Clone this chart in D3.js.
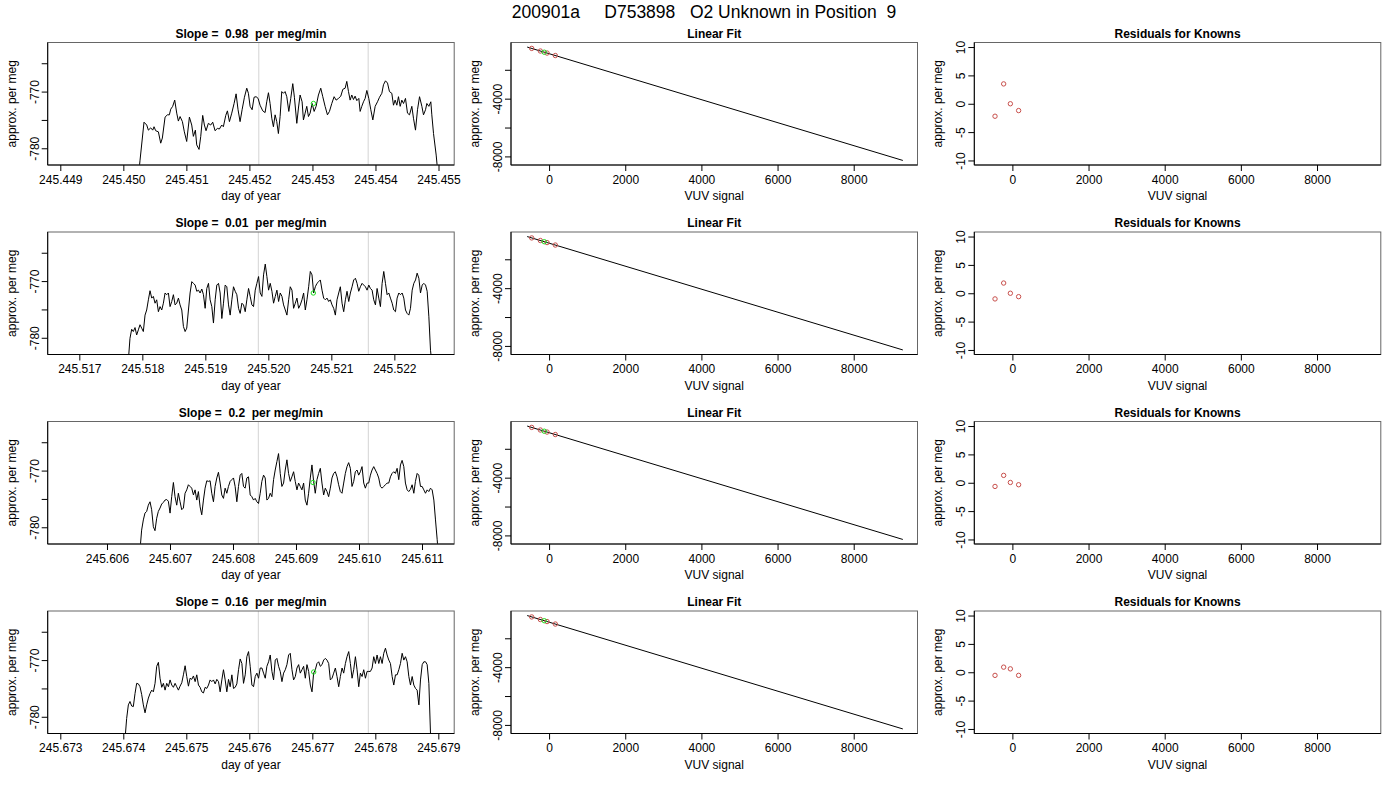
<!DOCTYPE html>
<html>
<head>
<meta charset="utf-8">
<script src="https://cdn.jsdelivr.net/npm/d3@7"></script>
<style>
  body { margin: 0; background: #fff; }
  svg { display: block; }
</style>
</head>
<body>
<svg id="chart" width="1400" height="800"></svg>
<script>
// ---- data ----
const mainTitle = "200901a     D753898   O2 Unknown in Position  9";
const slopes = ["0.98", "0.01", "0.2", "0.16"];

const dayTicks = [
  [245.449, 245.450, 245.451, 245.452, 245.453, 245.454, 245.455],
  [245.517, 245.518, 245.519, 245.520, 245.521, 245.522],
  [245.606, 245.607, 245.608, 245.609, 245.610, 245.611],
  [245.673, 245.674, 245.675, 245.676, 245.677, 245.678, 245.679]
];
const dayLimits = [
  [245.448800, 245.455249],
  [245.516498, 245.522950],
  [245.605059, 245.611511],
  [245.672800, 245.679252]
];
const valueLimits = [-782.95, -761.34];
const valueTicks = [-780, -775, -770, -765];
const valueTickLabels = [-780, -770];

// grey reference lines and the unknown's mean (green) in each window
const refTimes = [
  [245.452149, 245.453884],
  [245.519841, 245.521587],
  [245.608402, 245.610148],
  [245.676143, 245.677889]
];
const unknownTimes = [245.453016, 245.520714, 245.609270, 245.677022];
const unknownValues = [-772.1, -772.1, -772.1, -772.1];

const times1 = [
  245.450212, 245.450265, 245.450328, 245.450371, 245.450397, 245.450434, 245.450466, 245.450487, 245.450513, 245.450556,
  245.450593, 245.450619, 245.450662, 245.450699, 245.450730, 245.450752, 245.450783, 245.450815, 245.450847, 245.450873,
  245.450900, 245.450937, 245.450968, 245.451005, 245.451048, 245.451085, 245.451111, 245.451143, 245.451164, 245.451201,
  245.451228, 245.451259, 245.451286, 245.451312, 245.451349, 245.451386, 245.451418, 245.451455, 245.451492, 245.451524,
  245.451561, 245.451587, 245.451625, 245.451651, 245.451683, 245.451720, 245.451757, 245.451789, 245.451820, 245.451852,
  245.451884, 245.451921, 245.451958, 245.451984, 245.452011, 245.452043, 245.452074, 245.452106, 245.452138, 245.452169,
  245.452212, 245.452249, 245.452275, 245.452302, 245.452328, 245.452355, 245.452381, 245.452408, 245.452434, 245.452460,
  245.452487, 245.452513, 245.452540, 245.452566, 245.452593, 245.452625, 245.452656, 245.452688, 245.452714, 245.452752,
  245.452778, 245.452804, 245.452836, 245.452857, 245.452884, 245.452910, 245.452937, 245.452963, 245.452995, 245.453027,
  245.453058, 245.453095, 245.453132, 245.453164, 245.453201, 245.453238, 245.453270, 245.453307, 245.453344, 245.453376,
  245.453413, 245.453450, 245.453482, 245.453519, 245.453545, 245.453572, 245.453598, 245.453624, 245.453651, 245.453677,
  245.453704, 245.453736, 245.453757, 245.453783, 245.453810, 245.453836, 245.453863, 245.453894, 245.453926, 245.453958,
  245.453995, 245.454032, 245.454064, 245.454101, 245.454127, 245.454159, 245.454191, 245.454222, 245.454259, 245.454286,
  245.454312, 245.454339, 245.454365, 245.454392, 245.454418, 245.454445, 245.454476, 245.454508, 245.454540, 245.454577,
  245.454603, 245.454635, 245.454667, 245.454699, 245.454736, 245.454762, 245.454794, 245.454815, 245.454847, 245.454878,
  245.454894, 245.454921, 245.454963, 245.455000
];
const values1 = [
  -788.0, -782.1, -775.4, -775.9, -776.8, -776.4, -776.8, -776.2, -776.9, -777.1,
  -779.1, -778.2, -774.5, -774.1, -774.1, -773.1, -772.6, -771.5, -773.8, -775.2,
  -774.4, -775.3, -777.1, -778.8, -774.5, -775.9, -777.9, -776.8, -779.4, -780.2,
  -777.9, -774.2, -775.9, -776.9, -775.6, -775.9, -775.4, -776.9, -776.5, -776.6,
  -775.9, -776.2, -774.2, -773.4, -775.3, -773.8, -772.1, -770.4, -773.2, -775.3,
  -773.2, -771.0, -769.4, -770.3, -772.6, -773.2, -771.0, -770.9, -771.2, -772.4,
  -773.4, -773.7, -771.8, -770.2, -772.1, -774.7, -776.2, -774.1, -775.3, -777.4,
  -774.4, -770.0, -770.3, -770.0, -770.9, -773.5, -771.2, -768.6, -771.0, -775.6,
  -772.9, -770.6, -771.8, -775.0, -773.8, -772.6, -774.4, -773.8, -772.1, -773.5,
  -772.6, -770.6, -769.4, -770.9, -772.6, -774.1, -773.5, -772.1, -770.9, -771.5,
  -771.2, -770.8, -769.6, -769.4, -768.2, -770.0, -771.5, -770.6, -771.4, -770.8,
  -771.6, -771.2, -773.5, -772.6, -771.8, -771.2, -769.8, -771.2, -773.2, -775.0,
  -772.6, -771.8, -771.0, -770.3, -768.8, -768.1, -768.5, -770.0, -770.3, -772.4,
  -771.5, -772.4, -770.9, -772.6, -771.5, -772.1, -771.2, -773.8, -774.1, -772.6,
  -774.7, -776.8, -773.2, -770.9, -772.6, -774.1, -773.2, -772.1, -772.6, -771.8,
  -774.1, -777.4, -781.2, -785.6
];

const times2 = [
  245.517778, 245.517804, 245.517831, 245.517857, 245.517884, 245.517910, 245.517937, 245.517963, 245.517990, 245.518016,
  245.518043, 245.518069, 245.518096, 245.518122, 245.518149, 245.518175, 245.518202, 245.518228, 245.518255, 245.518281,
  245.518308, 245.518334, 245.518361, 245.518387, 245.518414, 245.518440, 245.518467, 245.518493, 245.518520, 245.518546,
  245.518573, 245.518599, 245.518626, 245.518652, 245.518679, 245.518705, 245.518732, 245.518758, 245.518785, 245.518811,
  245.518838, 245.518864, 245.518891, 245.518917, 245.518944, 245.518970, 245.518997, 245.519023, 245.519050, 245.519076,
  245.519103, 245.519129, 245.519156, 245.519182, 245.519209, 245.519235, 245.519262, 245.519288, 245.519315, 245.519341,
  245.519368, 245.519394, 245.519421, 245.519447, 245.519474, 245.519500, 245.519527, 245.519553, 245.519580, 245.519606,
  245.519633, 245.519659, 245.519686, 245.519712, 245.519739, 245.519765, 245.519792, 245.519818, 245.519845, 245.519871,
  245.519898, 245.519924, 245.519951, 245.519977, 245.520004, 245.520030, 245.520057, 245.520083, 245.520110, 245.520136,
  245.520163, 245.520189, 245.520216, 245.520242, 245.520269, 245.520295, 245.520322, 245.520348, 245.520375, 245.520401,
  245.520428, 245.520454, 245.520481, 245.520507, 245.520534, 245.520560, 245.520587, 245.520613, 245.520640, 245.520666,
  245.520693, 245.520719, 245.520746, 245.520772, 245.520799, 245.520825, 245.520852, 245.520878, 245.520905, 245.520931,
  245.520958, 245.520984, 245.521011, 245.521037, 245.521064, 245.521090, 245.521117, 245.521143, 245.521170, 245.521196,
  245.521223, 245.521249, 245.521276, 245.521302, 245.521329, 245.521355, 245.521382, 245.521408, 245.521435, 245.521461,
  245.521488, 245.521514, 245.521541, 245.521567, 245.521594, 245.521620, 245.521647, 245.521673, 245.521700, 245.521726,
  245.521753, 245.521779, 245.521806, 245.521832, 245.521859, 245.521885, 245.521912, 245.521938, 245.521965, 245.521991,
  245.522018, 245.522044, 245.522071, 245.522097, 245.522124, 245.522150, 245.522177, 245.522203, 245.522230, 245.522256,
  245.522283, 245.522309, 245.522336, 245.522362, 245.522389, 245.522415, 245.522442, 245.522468, 245.522495, 245.522521,
  245.522548, 245.522574, 245.522601
];
const values2 = [
  -784.0, -780.1, -778.5, -778.9, -778.2, -779.5, -778.6, -777.7, -778.3, -778.9,
  -776.0, -775.1, -773.3, -771.7, -773.0, -772.7, -773.9, -773.3, -775.4, -774.5,
  -775.1, -773.9, -772.1, -772.4, -772.1, -774.5, -773.6, -772.4, -774.2, -773.9,
  -773.0, -774.2, -775.1, -778.0, -778.9, -778.3, -775.1, -772.1, -770.1, -770.4,
  -770.7, -771.8, -771.6, -772.1, -771.4, -772.4, -774.8, -771.3, -770.4, -773.3,
  -774.5, -777.4, -773.3, -770.7, -770.4, -772.1, -776.6, -773.9, -770.7, -771.0,
  -774.2, -776.0, -773.3, -771.0, -771.8, -772.4, -774.8, -775.7, -773.9, -774.2,
  -775.4, -773.3, -771.3, -772.7, -774.2, -774.5, -771.6, -770.4, -769.2, -772.1,
  -772.7, -768.9, -767.0, -769.2, -771.6, -770.4, -771.8, -773.9, -772.7, -771.6,
  -773.6, -772.1, -772.7, -774.2, -775.1, -776.0, -773.3, -771.0, -771.6, -774.8,
  -773.9, -773.0, -774.8, -774.2, -773.3, -772.1, -775.1, -773.3, -771.0, -768.3,
  -768.9, -772.1, -771.0, -770.4, -770.1, -769.8, -771.6, -773.0, -773.3, -773.0,
  -773.6, -773.3, -774.2, -774.8, -776.0, -773.3, -772.1, -771.0, -773.9, -775.4,
  -773.3, -771.8, -773.6, -772.1, -771.0, -769.8, -769.5, -770.4, -771.8, -771.0,
  -770.4, -770.7, -771.0, -771.6, -770.7, -771.3, -771.6, -773.3, -774.2, -771.3,
  -773.0, -774.5, -770.4, -768.3, -770.4, -772.4, -772.1, -773.0, -773.9, -775.1,
  -775.4, -773.0, -772.1, -772.4, -772.1, -773.0, -775.1, -775.7, -776.0, -774.8,
  -771.6, -770.4, -769.8, -768.6, -769.5, -772.1, -770.7, -770.4, -770.7, -771.8,
  -776.3, -782.2, -785.0
];

const times3 = [
  245.606524, 245.606550, 245.606577, 245.606603, 245.606630, 245.606656, 245.606683, 245.606709, 245.606736, 245.606762,
  245.606789, 245.606815, 245.606842, 245.606868, 245.606895, 245.606921, 245.606948, 245.606974, 245.607001, 245.607027,
  245.607054, 245.607080, 245.607107, 245.607133, 245.607160, 245.607186, 245.607213, 245.607239, 245.607266, 245.607292,
  245.607319, 245.607345, 245.607372, 245.607398, 245.607425, 245.607451, 245.607478, 245.607504, 245.607531, 245.607557,
  245.607584, 245.607610, 245.607637, 245.607663, 245.607690, 245.607716, 245.607743, 245.607769, 245.607796, 245.607822,
  245.607849, 245.607875, 245.607902, 245.607928, 245.607955, 245.607981, 245.608008, 245.608034, 245.608061, 245.608087,
  245.608114, 245.608140, 245.608167, 245.608193, 245.608220, 245.608246, 245.608273, 245.608299, 245.608326, 245.608352,
  245.608379, 245.608405, 245.608432, 245.608458, 245.608485, 245.608511, 245.608538, 245.608564, 245.608591, 245.608617,
  245.608644, 245.608670, 245.608697, 245.608723, 245.608750, 245.608776, 245.608803, 245.608829, 245.608856, 245.608882,
  245.608909, 245.608935, 245.608962, 245.608988, 245.609015, 245.609041, 245.609068, 245.609094, 245.609121, 245.609147,
  245.609174, 245.609200, 245.609227, 245.609253, 245.609280, 245.609306, 245.609333, 245.609359, 245.609386, 245.609412,
  245.609439, 245.609465, 245.609492, 245.609518, 245.609545, 245.609571, 245.609598, 245.609624, 245.609651, 245.609677,
  245.609704, 245.609730, 245.609757, 245.609783, 245.609810, 245.609836, 245.609863, 245.609889, 245.609916, 245.609942,
  245.609969, 245.609995, 245.610022, 245.610048, 245.610075, 245.610101, 245.610128, 245.610154, 245.610181, 245.610207,
  245.610234, 245.610260, 245.610287, 245.610313, 245.610340, 245.610366, 245.610393, 245.610419, 245.610446, 245.610472,
  245.610499, 245.610525, 245.610552, 245.610578, 245.610605, 245.610631, 245.610658, 245.610684, 245.610711, 245.610737,
  245.610764, 245.610790, 245.610817, 245.610843, 245.610870, 245.610896, 245.610923, 245.610949, 245.610976, 245.611002,
  245.611029, 245.611055, 245.611082, 245.611108, 245.611135, 245.611161, 245.611188, 245.611214, 245.611241, 245.611267
];
const values3 = [
  -784.0, -780.5, -778.7, -777.5, -777.2, -776.1, -775.5, -776.9, -779.9, -780.6,
  -778.4, -777.2, -776.6, -775.9, -775.6, -775.2, -775.1, -775.4, -777.5, -774.6,
  -772.1, -774.6, -776.1, -774.0, -775.5, -776.9, -776.6, -774.0, -773.4, -772.5,
  -772.8, -773.1, -774.3, -773.4, -775.2, -773.7, -776.4, -777.8, -775.2, -773.1,
  -771.8, -771.9, -771.8, -774.0, -775.5, -772.8, -771.3, -770.3, -772.2, -774.3,
  -774.9, -773.1, -774.0, -772.8, -771.9, -771.6, -771.3, -772.8, -775.5, -772.8,
  -770.8, -770.5, -772.8, -773.1, -771.3, -771.1, -774.3, -774.6, -775.2, -774.9,
  -775.5, -775.8, -774.0, -771.9, -770.8, -771.3, -775.2, -774.9, -774.0, -774.6,
  -771.6, -769.9, -768.4, -767.0, -770.5, -772.8, -772.2, -769.9, -768.1, -770.5,
  -771.9, -771.1, -770.2, -771.9, -773.4, -772.2, -772.8, -773.4, -772.2, -775.2,
  -776.1, -774.0, -771.3, -769.0, -771.9, -774.0, -771.6, -770.5, -769.6, -772.2,
  -774.3, -773.1, -773.7, -774.6, -773.1, -771.3, -770.5, -770.2, -771.1, -772.5,
  -773.7, -774.0, -772.2, -770.5, -769.3, -768.6, -769.6, -772.8, -771.9, -770.2,
  -769.9, -770.8, -770.2, -769.3, -772.2, -773.1, -772.2, -772.2, -770.8, -769.9,
  -769.3, -769.9, -770.5, -771.3, -772.8, -773.1, -772.8, -772.5, -772.2, -772.2,
  -771.1, -770.5, -770.2, -770.5, -769.6, -771.6, -769.0, -768.2, -769.3, -772.2,
  -773.4, -773.7, -773.3, -772.5, -774.0, -771.9, -770.5, -770.8, -772.8, -772.8,
  -773.4, -774.0, -773.4, -773.7, -773.1, -773.4, -775.2, -778.7, -782.2, -786.0
];

const times4 = [
  245.674027, 245.674053, 245.674080, 245.674106, 245.674133, 245.674159, 245.674186, 245.674212, 245.674239, 245.674265,
  245.674292, 245.674318, 245.674345, 245.674371, 245.674398, 245.674424, 245.674451, 245.674477, 245.674504, 245.674530,
  245.674557, 245.674583, 245.674610, 245.674636, 245.674663, 245.674689, 245.674716, 245.674742, 245.674769, 245.674795,
  245.674822, 245.674848, 245.674875, 245.674901, 245.674928, 245.674954, 245.674981, 245.675007, 245.675034, 245.675060,
  245.675087, 245.675113, 245.675140, 245.675166, 245.675193, 245.675219, 245.675246, 245.675272, 245.675299, 245.675325,
  245.675352, 245.675378, 245.675405, 245.675431, 245.675458, 245.675484, 245.675511, 245.675537, 245.675564, 245.675590,
  245.675617, 245.675643, 245.675670, 245.675696, 245.675723, 245.675749, 245.675776, 245.675802, 245.675829, 245.675855,
  245.675882, 245.675908, 245.675935, 245.675961, 245.675988, 245.676014, 245.676041, 245.676067, 245.676094, 245.676120,
  245.676147, 245.676173, 245.676200, 245.676226, 245.676253, 245.676279, 245.676306, 245.676332, 245.676359, 245.676385,
  245.676412, 245.676438, 245.676465, 245.676491, 245.676518, 245.676544, 245.676571, 245.676597, 245.676624, 245.676650,
  245.676677, 245.676703, 245.676730, 245.676756, 245.676783, 245.676809, 245.676836, 245.676862, 245.676889, 245.676915,
  245.676942, 245.676968, 245.676995, 245.677021, 245.677048, 245.677074, 245.677101, 245.677127, 245.677154, 245.677180,
  245.677207, 245.677233, 245.677260, 245.677286, 245.677313, 245.677339, 245.677366, 245.677392, 245.677419, 245.677445,
  245.677472, 245.677498, 245.677525, 245.677551, 245.677578, 245.677604, 245.677631, 245.677657, 245.677684, 245.677710,
  245.677737, 245.677763, 245.677790, 245.677816, 245.677843, 245.677869, 245.677896, 245.677922, 245.677949, 245.677975,
  245.678002, 245.678028, 245.678055, 245.678081, 245.678108, 245.678134, 245.678161, 245.678187, 245.678214, 245.678240,
  245.678267, 245.678293, 245.678320, 245.678346, 245.678373, 245.678399, 245.678426, 245.678452, 245.678479, 245.678505,
  245.678532, 245.678558, 245.678585, 245.678611, 245.678638, 245.678664, 245.678691, 245.678717, 245.678744, 245.678770,
  245.678797, 245.678823, 245.678850, 245.678876, 245.678903
];
const values4 = [
  -784.0, -780.3, -777.9, -777.3, -778.1, -778.2, -775.9, -774.1, -774.2, -774.7,
  -776.1, -777.9, -779.3, -777.9, -776.7, -775.9, -775.3, -775.6, -774.1, -771.1,
  -770.4, -773.2, -774.8, -774.1, -775.3, -774.1, -774.7, -773.5, -774.4, -774.8,
  -774.1, -774.7, -775.3, -774.6, -774.0, -772.6, -771.0, -772.9, -774.6, -773.2,
  -773.4, -772.8, -773.8, -772.6, -774.4, -774.8, -775.6, -775.8, -774.8, -775.0,
  -774.4, -773.5, -773.8, -773.5, -774.2, -773.4, -773.8, -775.6, -773.5, -771.7,
  -773.5, -775.6, -773.4, -774.7, -772.6, -775.0, -774.8, -774.2, -771.7, -769.8,
  -770.6, -774.1, -772.6, -769.4, -768.5, -771.1, -774.4, -774.7, -772.9, -772.3,
  -773.2, -771.4, -771.4, -772.3, -773.2, -771.1, -770.3, -769.1, -772.0, -773.5,
  -770.0, -769.7, -771.1, -772.0, -773.8, -772.3, -771.7, -770.8, -769.1, -768.8,
  -771.7, -773.5, -772.9, -771.4, -770.8, -772.3, -771.7, -771.1, -773.2, -770.8,
  -772.0, -774.4, -775.6, -772.3, -771.7, -770.6, -770.3, -771.1, -770.8, -770.0,
  -769.7, -770.0, -770.6, -773.5, -773.2, -772.3, -771.4, -772.9, -774.7, -772.9,
  -771.4, -772.3, -770.6, -769.4, -768.5, -770.6, -773.2, -771.7, -769.4, -771.7,
  -774.7, -772.3, -772.9, -771.7, -773.2, -772.0, -772.0, -772.0, -771.4, -769.4,
  -770.6, -769.1, -770.6, -769.4, -770.6, -768.8, -767.9, -769.1, -770.0, -770.6,
  -772.9, -774.4, -772.6, -772.6, -771.7, -770.6, -768.8, -770.0, -769.4, -770.3,
  -772.9, -774.4, -772.9, -774.4, -775.0, -775.3, -777.9, -773.5, -770.8, -770.3,
  -770.3, -770.8, -774.1, -783.0, -787.0
];

// linear fit and residual panels
const vuvLimits = [-1000, 9675];
const vuvTicks = [0, 2000, 4000, 6000, 8000];
const fitLimits = [-8595, -110];
const fitTicks = [-2000, -4000, -6000, -8000];
const fitTickLabels = [-4000, -8000];
const fitLineX = [-575, 9290];
const fitLineY = [-425, -8280];
const knownVuv = [-456, -229, -53, 164];
const knownPerMeg = [-520, -700, -841, -1013];
const unknownVuv = [-126];
const unknownPerMeg = [-783];
const residLimits = [-10.8, 10.8];
const residTicks = [-10, -5, 0, 5, 10];
const residuals = [
  [-2.2, 3.5, 0.0, -1.2],
  [-1.0, 1.8, 0.0, -0.6],
  [-0.65, 1.3, 0.05, -0.35],
  [-0.55, 0.9, 0.6, -0.55]
];

const series = [[times1, values1], [times2, values2], [times3, values3], [times4, values4]];

// ---- layout ----
const FONT = "'Liberation Sans', Arial, Helvetica, sans-serif";
const colLeft = [47.7, 511, 974.3];
const frameW = 406.5, frameH = 122.5;
const rowTop = r => 42.5 + r * 189.5;
const RED = "#c8504c", GREEN = "#1fdc1f";

const svg = d3.select("#chart").attr("font-family", FONT);
svg.append("rect").attr("width", 1400).attr("height", 800).attr("fill", "#fff");

svg.append("text")
  .attr("x", 704).attr("y", 17.5)
  .attr("text-anchor", "middle")
  .attr("font-size", 17.5)
  .attr("xml:space", "preserve")
  .style("white-space", "pre")
  .text(mainTitle);

function frame(g, w, h) {
  g.append("rect").attr("width", w).attr("height", h)
    .attr("fill", "none").attr("stroke", "#666");
  g.append("line").attr("x1", 0).attr("x2", 0).attr("y1", 0).attr("y2", h).attr("stroke", "#000");
  g.append("line").attr("x1", 0).attr("x2", w).attr("y1", h).attr("y2", h).attr("stroke", "#000");
}

function bottomAxis(g, scale, ticks, fmt) {
  const ax = g.append("g").attr("transform", `translate(0,${frameH})`)
    .call(d3.axisBottom(scale).tickValues(ticks).tickFormat(fmt)
      .tickSize(6).tickPadding(4).tickSizeOuter(0));
  ax.select(".domain").remove();
  ax.attr("font-family", FONT).attr("font-size", 12);
  ax.selectAll("line").attr("stroke", "#000");
  ax.selectAll("text").attr("fill", "#000");
}

function leftAxis(g, scale, ticks, labeled) {
  const ax = g.append("g")
    .call(d3.axisLeft(scale).tickValues(ticks)
      .tickFormat(d => labeled.includes(d) ? String(d) : "")
      .tickSize(6).tickSizeOuter(0));
  ax.select(".domain").remove();
  ax.attr("font-family", FONT).attr("font-size", 12);
  ax.selectAll("line").attr("stroke", "#000");
  ax.selectAll("text").attr("fill", "#000")
    .attr("x", null).attr("dy", null)
    .attr("text-anchor", "middle")
    .attr("transform", "translate(-9,0) rotate(-90)");
}

function labels(g, title, xTitle) {
  g.append("text").attr("x", frameW / 2).attr("y", -5)
    .attr("text-anchor", "middle").attr("font-size", 12).attr("font-weight", "bold")
    .attr("xml:space", "preserve").style("white-space", "pre")
    .text(title);
  g.append("text").attr("x", frameW / 2).attr("y", frameH + 35)
    .attr("text-anchor", "middle").attr("font-size", 12).text(xTitle);
  g.append("text").attr("transform", `translate(-32,${frameH / 2}) rotate(-90)`)
    .attr("text-anchor", "middle").attr("font-size", 12).text("approx. per meg");
}

function clipped(g, id) {
  g.append("clipPath").attr("id", id)
    .append("rect").attr("width", frameW).attr("height", frameH);
  return g.append("g").attr("clip-path", `url(#${id})`);
}

for (let row = 0; row < 4; row++) {
  // ---- time series ----
  let g = svg.append("g").attr("transform", `translate(${colLeft[0]},${rowTop(row)})`);
  let x = d3.scaleLinear().domain(dayLimits[row]).range([0, frameW]);
  let y = d3.scaleLinear().domain(valueLimits).range([frameH, 0]);
  let plot = clipped(g, "clipT" + row);

  plot.selectAll(".ref")
    .data(refTimes[row])
    .enter()
    .append("line")
    .attr("x1", d => x(d)).attr("x2", d => x(d))
    .attr("y1", 0).attr("y2", frameH)
    .attr("stroke", "#d3d3d3");

  let pts = d3.zip(series[row][0], series[row][1]);
  plot.append("path")
    .datum(pts)
    .attr("fill", "none").attr("stroke", "#000").attr("stroke-width", 1)
    .attr("stroke-linejoin", "round")
    .attr("d", d3.line().x(d => x(d[0])).y(d => y(d[1])));

  plot.append("circle")
    .attr("cx", x(unknownTimes[row])).attr("cy", y(unknownValues[row]))
    .attr("r", 2.2).attr("fill", "none").attr("stroke", GREEN).attr("stroke-width", 1);

  frame(g, frameW, frameH);
  bottomAxis(g, x, dayTicks[row], d3.format(".3f"));
  leftAxis(g, y, valueTicks, valueTickLabels);
  labels(g, "Slope =  " + slopes[row] + "  per meg/min", "day of year");

  // ---- linear fit ----
  g = svg.append("g").attr("transform", `translate(${colLeft[1]},${rowTop(row)})`);
  x = d3.scaleLinear().domain(vuvLimits).range([0, frameW]);
  y = d3.scaleLinear().domain(fitLimits).range([frameH, 0]);
  plot = clipped(g, "clipF" + row);

  plot.append("path")
    .datum(d3.zip(fitLineX, fitLineY))
    .attr("fill", "none").attr("stroke", "#000")
    .attr("d", d3.line().x(d => x(d[0])).y(d => y(d[1])));

  plot.selectAll(".known")
    .data(d3.zip(knownVuv, knownPerMeg))
    .enter()
    .append("circle")
    .attr("cx", d => x(d[0])).attr("cy", d => y(d[1]))
    .attr("r", 2.2).attr("fill", "none").attr("stroke", RED);

  plot.selectAll(".unk")
    .data(d3.zip(unknownVuv, unknownPerMeg))
    .enter()
    .append("circle")
    .attr("cx", d => x(d[0])).attr("cy", d => y(d[1]))
    .attr("r", 2.2).attr("fill", "none").attr("stroke", GREEN);

  frame(g, frameW, frameH);
  bottomAxis(g, x, vuvTicks, d => String(d));
  leftAxis(g, y, fitTicks, fitTickLabels);
  labels(g, "Linear Fit", "VUV signal");

  // ---- residuals ----
  g = svg.append("g").attr("transform", `translate(${colLeft[2]},${rowTop(row)})`);
  y = d3.scaleLinear().domain(residLimits).range([frameH, 0]);
  plot = clipped(g, "clipR" + row);

  plot.selectAll(".resid")
    .data(d3.zip(knownVuv, residuals[row]))
    .enter()
    .append("circle")
    .attr("cx", d => x(d[0])).attr("cy", d => y(d[1]))
    .attr("r", 2.2).attr("fill", "none").attr("stroke", RED);

  frame(g, frameW, frameH);
  bottomAxis(g, x, vuvTicks, d => String(d));
  leftAxis(g, y, residTicks, residTicks);
  labels(g, "Residuals for Knowns", "VUV signal");
}
</script>
</body>
</html>
